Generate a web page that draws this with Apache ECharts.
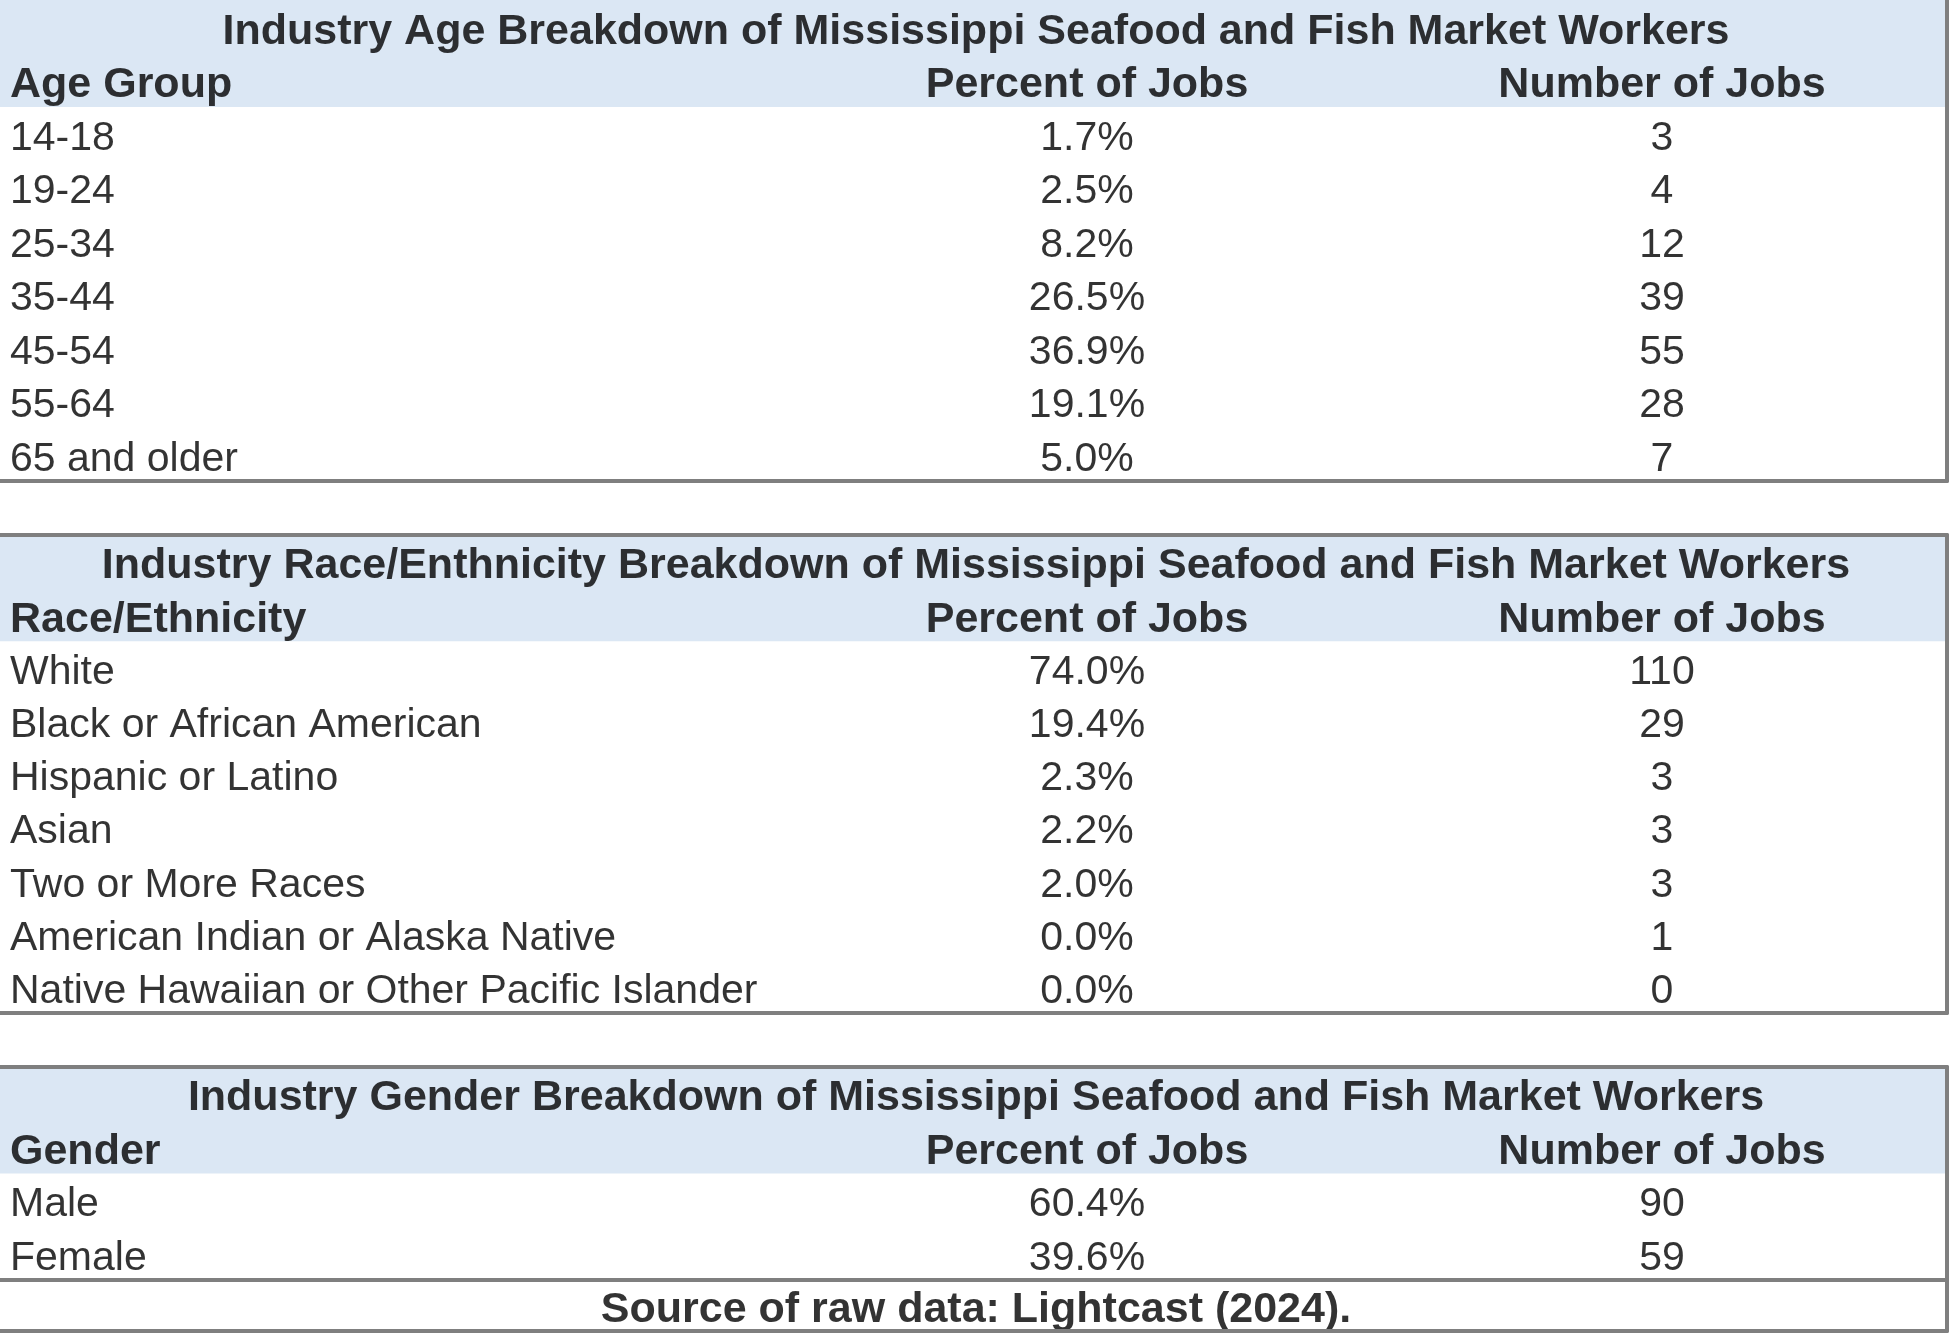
<!doctype html>
<html>
<head>
<meta charset="utf-8">
<title>Mississippi Seafood and Fish Market Workers</title>
<script src="https://cdn.jsdelivr.net/npm/echarts@6.0.0/dist/echarts.min.js"></script>
<style>
  html, body { margin: 0; padding: 0; background: #fff; }
  #chart { width: 1950px; height: 1334px; }
</style>
</head>
<body>
<div id="chart"></div>
<script>
  // ---- data ----
  var ageGroups = ['14-18', '19-24', '25-34', '35-44', '45-54', '55-64', '65 and older'];
  var agePercent = [1.7, 2.5, 8.2, 26.5, 36.9, 19.1, 5.0];
  var ageJobs = [3, 4, 12, 39, 55, 28, 7];

  var races = ['White', 'Black or African American', 'Hispanic or Latino', 'Asian',
    'Two or More Races', 'American Indian or Alaska Native', 'Native Hawaiian or Other Pacific Islander'];
  var racePercent = [74.0, 19.4, 2.3, 2.2, 2.0, 0.0, 0.0];
  var raceJobs = [110, 29, 3, 3, 3, 1, 0];

  var genders = ['Male', 'Female'];
  var genderPercent = [60.4, 39.6];
  var genderJobs = [90, 59];

  var colHeads = ['Percent of Jobs', 'Number of Jobs'];
  var sourceNote = 'Source of raw data: Lightcast (2024).';

  var tables = [
    { title: 'Industry Age Breakdown of Mississippi Seafood and Fish Market Workers',
      head: 'Age Group', rows: ageGroups, pct: agePercent, jobs: ageJobs },
    { title: 'Industry Race/Enthnicity Breakdown of Mississippi Seafood and Fish Market Workers',
      head: 'Race/Ethnicity', rows: races, pct: racePercent, jobs: raceJobs },
    { title: 'Industry Gender Breakdown of Mississippi Seafood and Fish Market Workers',
      head: 'Gender', rows: genders, pct: genderPercent, jobs: genderJobs }
  ];

  // ---- layout ----
  var gridTops = [0, 535, 1067, 1280];
  var gridBottoms = [481, 1013, 1280, 1331];
  var topBorder = [false, true, true, true];
  var COL = { label: 10, pct: 1087, num: 1662, mid: 976 };
  var BAND = '#dbe7f4';
  var BORDER = '#7f7f7f';
  var INK = '#000000';
  var FONT = '"Liberation Sans", Arial, sans-serif';

  var grids = [], xAxes = [], yAxes = [], series = [];

  function cell(x, row, text, align, bold) {
    return {
      name: text,
      value: [x, row],
      label: {
        align: align,
        fontWeight: bold ? 'bold' : 'normal',
        fontSize: bold ? 43 : 41
      }
    };
  }

  function edge(show) {
    return { show: show, onZero: false, lineStyle: { color: BORDER, width: 4 } };
  }

  function addGrid(idx, cats, bandRows, items) {
    // borders come from axis lines: bottom, right and (optionally) top, no left edge
    grids.push({ left: 0, right: 3, top: gridTops[idx], height: gridBottoms[idx] - gridTops[idx] });
    var xi = xAxes.length;
    xAxes.push({
      gridIndex: idx, type: 'value', min: 0, max: 1947, position: 'bottom',
      axisLine: edge(true), axisTick: { show: false }, axisLabel: { show: false },
      splitLine: { show: false }, z: 5
    });
    if (topBorder[idx]) {
      xAxes.push({
        gridIndex: idx, type: 'value', min: 0, max: 1947, position: 'top',
        axisLine: edge(true), axisTick: { show: false }, axisLabel: { show: false },
        splitLine: { show: false }, z: 5
      });
    }
    yAxes.push({
      gridIndex: idx, type: 'category', inverse: true, data: cats, position: 'right',
      axisLine: edge(true), axisTick: { show: false }, axisLabel: { show: false },
      splitLine: { show: false },
      splitArea: { show: true, areaStyle: { color: cats.map(function (c, k) {
        return k < bandRows ? BAND : 'rgba(255,255,255,0)';
      }) } }
    });
    series.push({
      type: 'scatter', xAxisIndex: xi, yAxisIndex: idx,
      symbolSize: 1, itemStyle: { color: 'rgba(0,0,0,0)' },
      silent: true, animation: false,
      emphasis: { disabled: true },
      label: {
        show: true, position: 'inside', formatter: '{b}', offset: [0, 5],
        color: INK, fontFamily: FONT, verticalAlign: 'middle'
      },
      data: items
    });
  }

  tables.forEach(function (t, i) {
    var cats = ['title', 'head'].concat(t.rows);
    var items = [
      cell(COL.mid, 'title', t.title, 'center', true),
      cell(COL.label, 'head', t.head, 'left', true),
      cell(COL.pct, 'head', colHeads[0], 'center', true),
      cell(COL.num, 'head', colHeads[1], 'center', true)
    ];
    t.rows.forEach(function (r, k) {
      items.push(cell(COL.label, r, r, 'left', false));
      items.push(cell(COL.pct, r, t.pct[k].toFixed(1) + '%', 'center', false));
      items.push(cell(COL.num, r, String(t.jobs[k]), 'center', false));
    });
    addGrid(i, cats, 2, items);
  });

  addGrid(3, ['source'], 0, [cell(COL.mid, 'source', sourceNote, 'center', true)]);

  var myChart = echarts.init(document.getElementById('chart'));
  myChart.setOption({
    backgroundColor: '#ffffff',
    animation: false,
    grid: grids,
    xAxis: xAxes,
    yAxis: yAxes,
    series: series
  });
</script>
</body>
</html>
